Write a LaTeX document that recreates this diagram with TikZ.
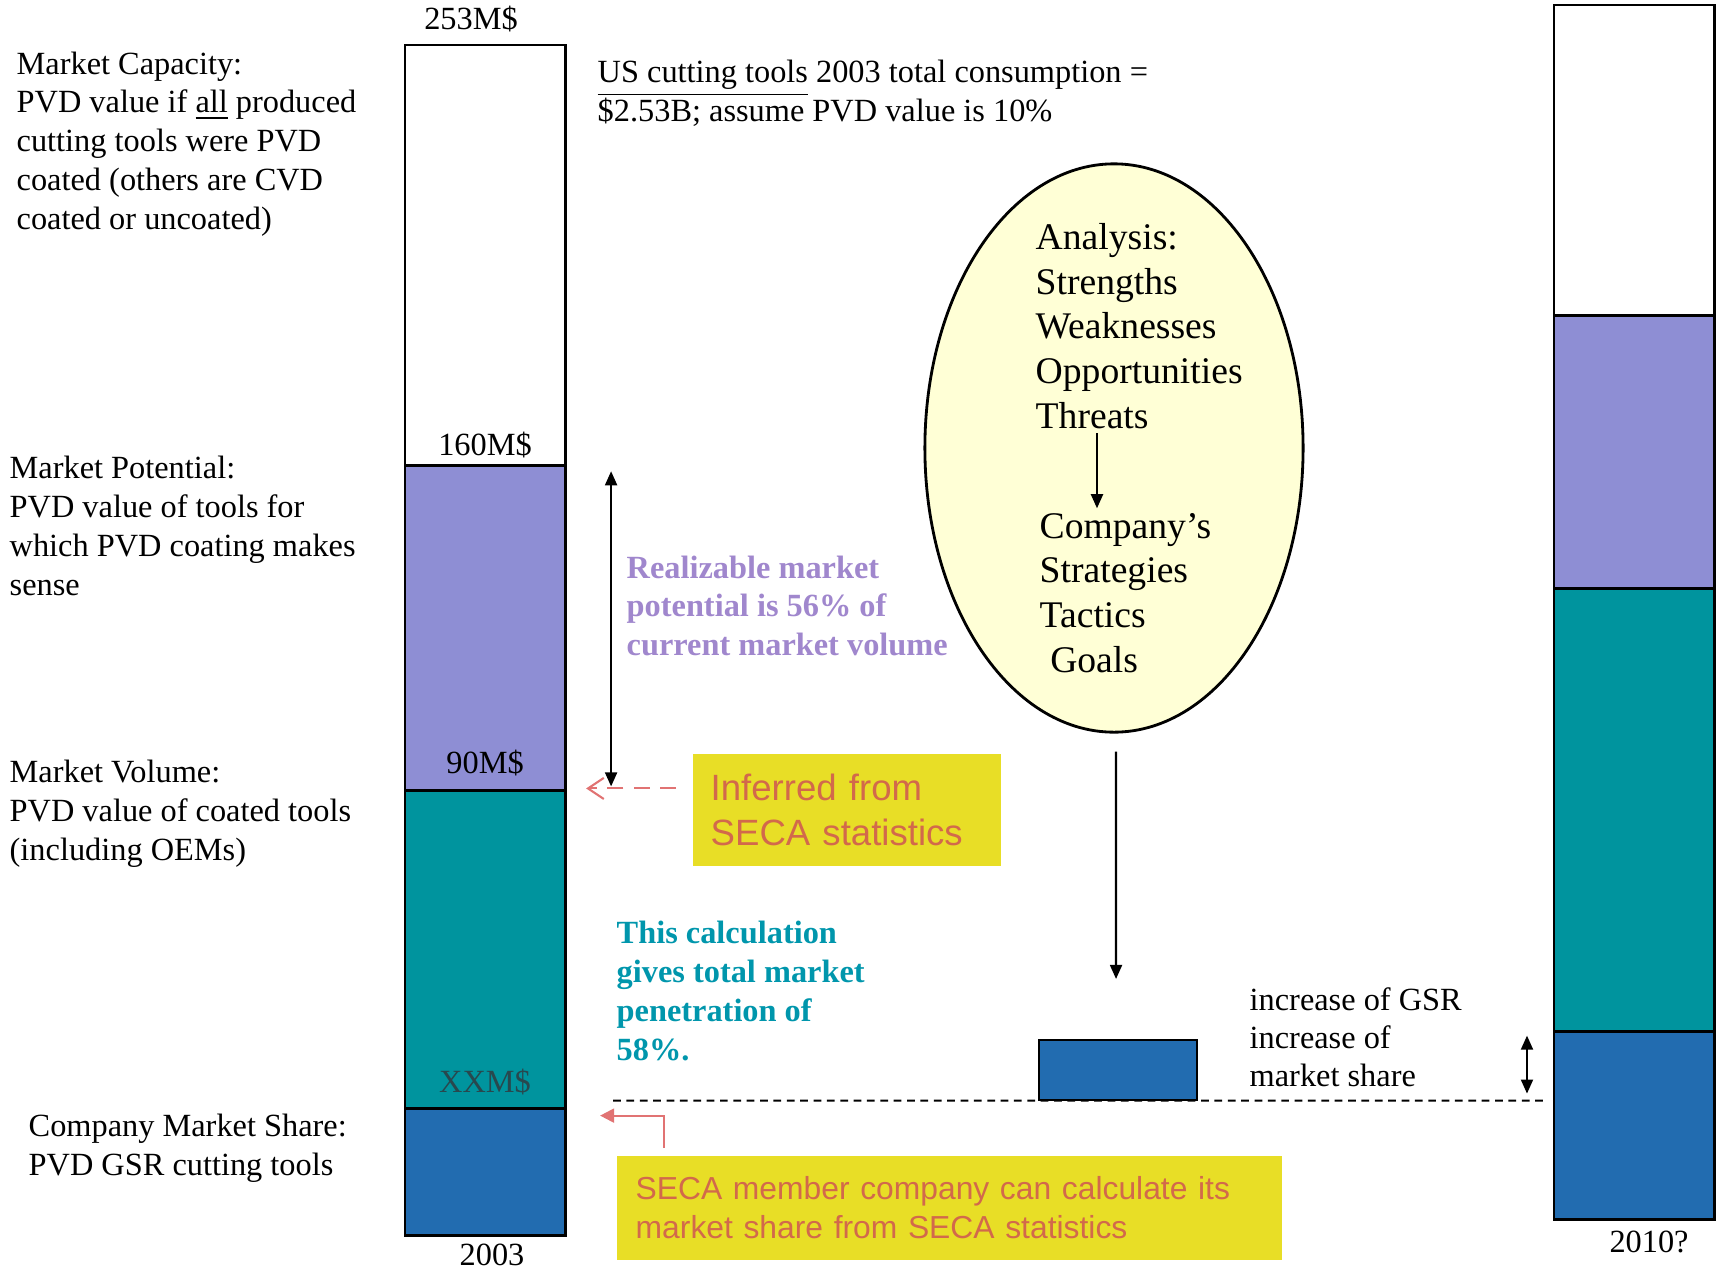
\documentclass[tikz,border=0pt]{standalone}
\usepackage{fontspec}
\setmainfont{Liberation Serif}
\newfontfamily\notefont{Liberation Sans}
\usetikzlibrary{positioning,arrows.meta,calc,shapes.geometric}

\definecolor{potcol}{RGB}{142,142,212}
\definecolor{volcol}{RGB}{0,148,158}
\definecolor{sharecol}{RGB}{34,108,176}
\definecolor{ellcol}{RGB}{255,255,214}
\definecolor{notecol}{RGB}{232,222,38}
\definecolor{notetxt}{RGB}{210,105,75}
\definecolor{pinkarr}{RGB}{225,115,115}
\definecolor{realtxt}{RGB}{160,135,205}
\definecolor{calctxt}{RGB}{0,150,172}
\definecolor{xxtxt}{RGB}{40,72,78}

\begin{document}
\begin{tikzpicture}[x=0.01cm, y=-0.01cm,
  seg/.style={draw, line width=0.8pt, minimum width=1.6cm, inner sep=0pt, outer sep=0pt},
  txt/.style={font=\fontsize{9.2}{11}\selectfont, align=left, inner sep=0pt, anchor=base west},
  val/.style={font=\fontsize{9.2}{11}\selectfont, inner sep=0pt},
  swottxt/.style={font=\fontsize{10.7}{12.7}\selectfont, align=left, inner sep=0pt, anchor=base west},
  note/.style={fill=notecol, text=notetxt, align=left, inner ysep=0pt, anchor=north west},
  arr/.style={-{Triangle[length=4pt,width=3.4pt]}, line width=0.6pt},
  dbl/.style={{Triangle[length=4pt,width=3.4pt]}-{Triangle[length=4pt,width=3.4pt]}, line width=0.6pt},
]
\useasboundingbox (0,0) rectangle (1717,1272);

% 2003 bar
\node[seg, fill=white, minimum height=4.2cm, anchor=north west] (cap03) at (405,45) {};
\node[seg, fill=potcol, minimum height=3.25cm, below=0pt of cap03] (pot03) {};
\node[seg, fill=volcol, minimum height=3.18cm, below=0pt of pot03] (vol03) {};
\node[seg, fill=sharecol, minimum height=1.27cm, below=0pt of vol03] (share03) {};
\node[val, above=1.2mm of cap03, xshift=-0.14cm] (v253) {253M\$};
\node[val, above=0.7mm of pot03] (v160) {160M\$};
\node[val, above=1.4mm of vol03] (v90) {90M\$};
\node[val, text=xxtxt, above=1.3mm of share03] (vxx) {XXM\$};
\node[val, below=0.8mm of share03, xshift=0.07cm] (y03) {2003};

% 2010 bar
\node[seg, fill=white, minimum height=3.1cm, anchor=north west] (cap10) at (1554,5) {};
\node[seg, fill=potcol, minimum height=2.73cm, below=0pt of cap10] (pot10) {};
\node[seg, fill=volcol, minimum height=4.43cm, below=0pt of pot10] (vol10) {};
\node[seg, fill=sharecol, minimum height=1.88cm, below=0pt of vol10] (share10) {};
\node[val, below=1.1mm of share10, xshift=0.15cm] (y10) {2010?};

% left labels (anchored at last baseline)
\node[txt] (captxt) at (16,229) {Market Capacity:\\PVD value if \underline{all} produced\\cutting tools were PVD\\coated (others are CVD\\coated or uncoated)};
\node[txt] (pottxt) at (9,595) {Market Potential:\\PVD value of tools for\\which PVD coating makes\\sense};
\node[txt] (voltxt) at (9,860) {Market Volume:\\PVD value of coated tools\\(including OEMs)};
\node[txt] (sharetxt) at (28,1175) {Company Market Share:\\PVD GSR cutting tools};

\node[txt] (ustxt) at (597,121) {\underline{US cutting tools} 2003 total consumption =\\\$2.53B; assume PVD value is 10\%};

% realizable potential
\draw[dbl] ($(pot03.north east)+(46,6)$) -- ($(pot03.south east)+(46,-4)$);
\node[txt, text=realtxt, font=\bfseries\fontsize{9.2}{10.9}\selectfont] (realtxt) at (626,655) {Realizable market\\potential is 56\% of\\current market volume};

% SWOT ellipse
\node[ellipse, draw, line width=0.8pt, fill=ellcol, minimum width=3.78cm, minimum height=5.68cm, inner sep=0pt] (swot) at (1114,448) {};
\node[swottxt] (analysis) at (1035,428) {Analysis:\\Strengths\\Weaknesses\\Opportunities\\Threats};
\node[swottxt] (company) at (1039,672) {Company’s\\Strategies\\Tactics\\\hspace{3pt}Goals};
\coordinate (ax) at (1097,0);
\draw[arr] ($(analysis.south -| ax)+(0,4)$) -- ($(company.north -| ax)+(0,-4)$);

% inferred note
\node[note, font=\notefont\fontsize{10.4}{12.8}\selectfont, text width=2.72cm, inner xsep=0.18cm, minimum height=1.12cm] (infer) at (692,753) {Inferred from\\SECA statistics};
\draw[pinkarr, line width=0.6pt, dash pattern=on 4.5pt off 3pt, -{Straight Barb[length=4.5pt,width=6pt]}] ($(infer.west |- vol03.north)+(-16,-2)$) -- ($(vol03.north east)+(21,-2)$);

% penetration
\node[txt, text=calctxt, font=\bfseries\fontsize{9.2}{11}\selectfont] (calctxt) at (616,1060) {This calculation\\gives total market\\penetration of\\58\%.};

% GSR increase
\node[seg, fill=sharecol, minimum width=1.58cm, minimum height=0.6cm, anchor=south west, line width=0.6pt] (gsr) at (1039,1100) {};
\draw[arr] ($(swot.south)+(2,18)$) -- ($(gsr.north)+(-2,-61)$);
\draw[dashed, dash pattern=on 2.2pt off 1.6pt, line width=0.6pt] ($(share03.north east)+(48,-8)$) -- ($(share10.north west)+(-11,69)$);
\draw[dbl] ($(share10.north west)+(-27,4)$) -- ($(share10.north west)+(-27,62)$);
\node[txt, font=\fontsize{9.2}{10.8}\selectfont] (gsrtxt) at (1249,1086) {increase of GSR\\increase of\\market share};

% market share note
\node[note, font=\notefont\fontsize{9.05}{11}\selectfont, text width=6.27cm, inner xsep=0.19cm, minimum height=1.04cm] (shareinfo) at (616,1155) {SECA member company can calculate its\\market share from SECA statistics};
\draw[pinkarr, line width=0.6pt, -{Triangle[length=4pt,width=4pt]}] ($(shareinfo.north west)+(48,-7)$) |- ($(share03.north east)+(35,7)$);
\end{tikzpicture}
\end{document}
